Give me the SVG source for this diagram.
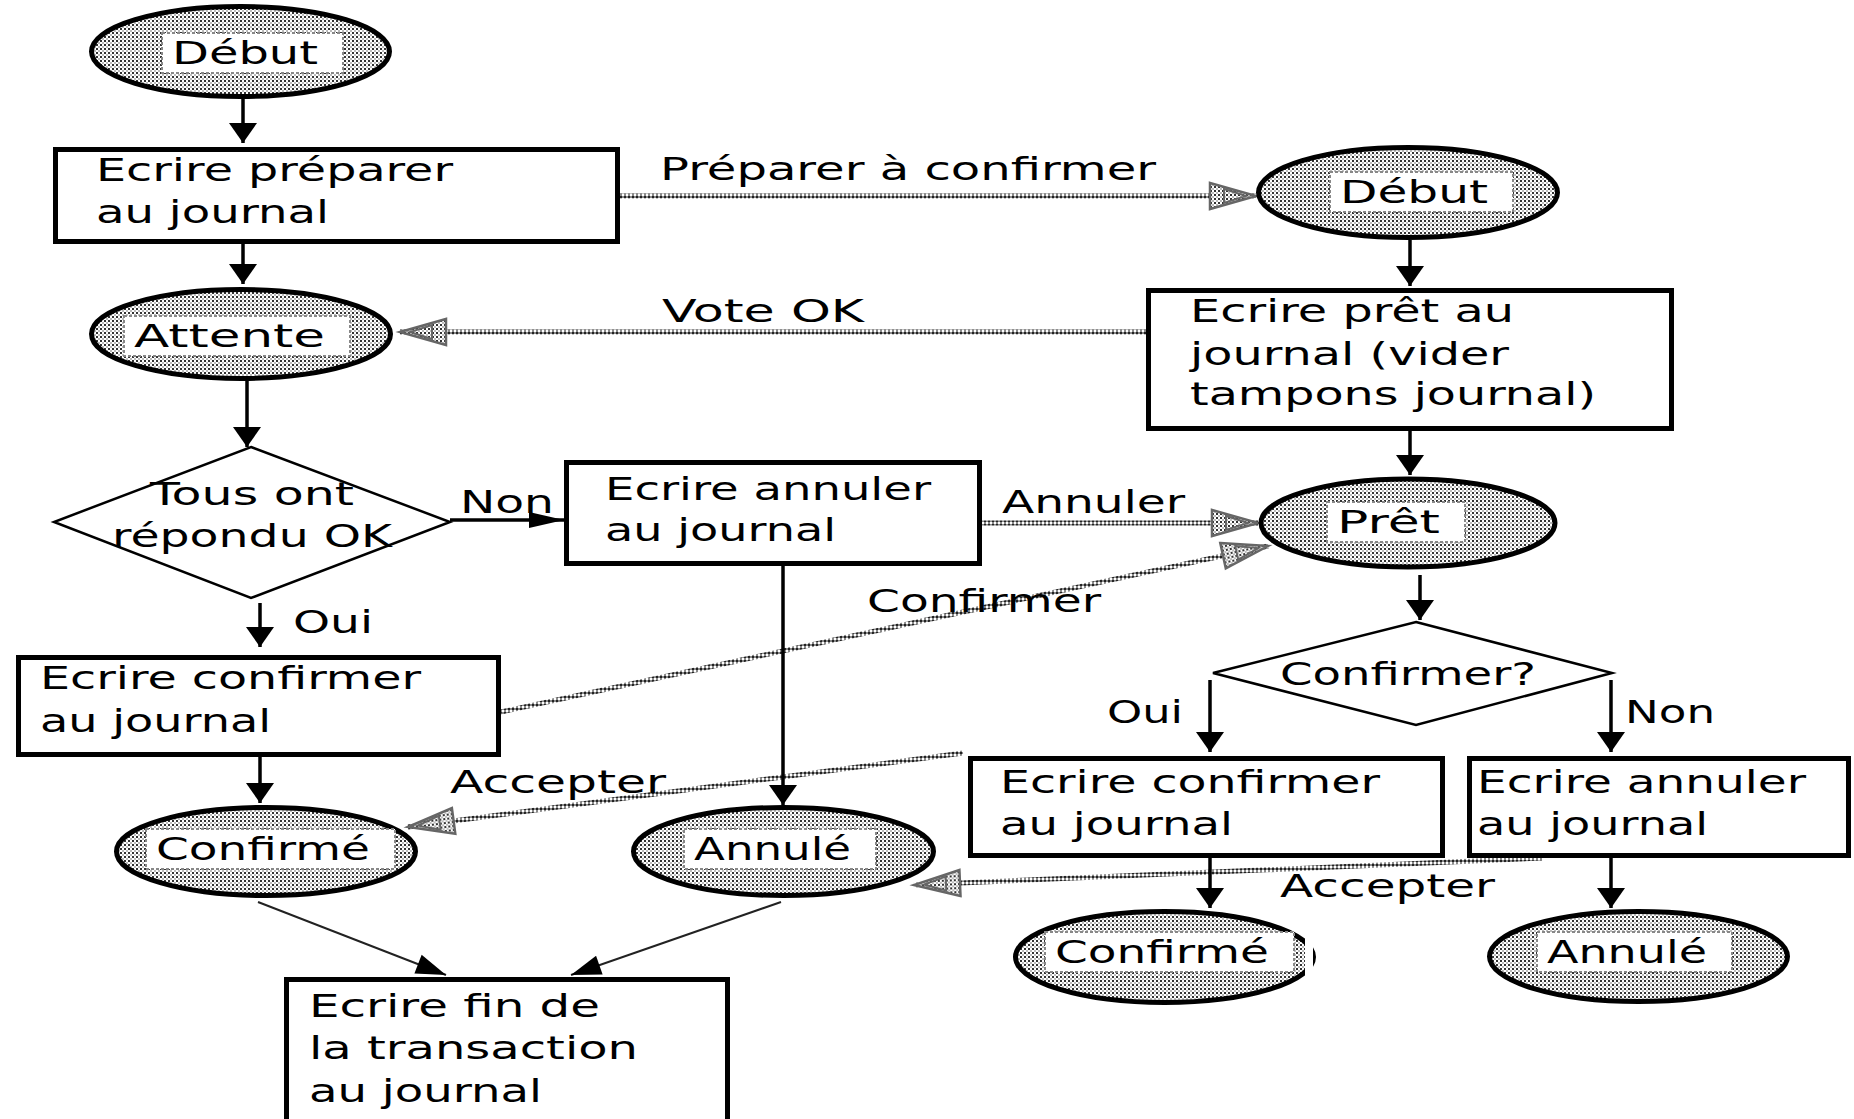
<svg xmlns="http://www.w3.org/2000/svg" width="1854" height="1119" viewBox="0 0 1854 1119">
<defs>
<pattern id="dots" width="4" height="4" patternUnits="userSpaceOnUse">
<rect width="4" height="4" fill="#fff"/>
<rect width="2" height="2" fill="#333"/>
<rect x="2" y="2" width="2" height="2" fill="#bbb"/>
</pattern>
<pattern id="chain" width="4" height="4" patternUnits="userSpaceOnUse">
<rect width="4" height="4" fill="#8a8a8a"/>
<rect width="2" height="2" fill="#222"/>
<rect x="2" y="2" width="2" height="2" fill="#fff"/>
</pattern>
<marker id="ahv" markerUnits="userSpaceOnUse" markerWidth="20" markerHeight="28" refX="20" refY="14" orient="auto" overflow="visible">
<path d="M0,0 L20,14 L0,28 z" fill="#000"/>
</marker>
<marker id="ahh" markerUnits="userSpaceOnUse" markerWidth="35" markerHeight="16" refX="35" refY="8" orient="auto" overflow="visible">
<path d="M0,0 L35,8 L0,16 z" fill="#000"/>
</marker>
<marker id="ahd" markerUnits="userSpaceOnUse" markerWidth="30" markerHeight="20" refX="30" refY="10" orient="auto" overflow="visible">
<path d="M0,0 L30,10 L0,20 z" fill="#000"/>
</marker>
<marker id="ahg" markerUnits="userSpaceOnUse" markerWidth="46" markerHeight="28" refX="46" refY="14" orient="auto" overflow="visible">
<path d="M0,1 L46,14 L0,27 z" fill="url(#dots)" stroke="#666" stroke-width="2.5"/>
<path d="M14,7 L36,14 L14,21 z" fill="none" stroke="#666" stroke-width="2"/>
</marker>
<style>
.t{font-family:"DejaVu Sans","Liberation Sans",sans-serif;font-size:32px;fill:#000}
.box{fill:#fff;stroke:#000;stroke-width:5}
.ell{fill:url(#dots);stroke:#000;stroke-width:5}
.win{fill:#fff;stroke:#888;stroke-width:2;stroke-dasharray:3 2}
.dia{fill:#fff;stroke:#000;stroke-width:2.5}
.ln{fill:none;stroke:#000;stroke-width:3.5}
.ld{fill:none;stroke:#222;stroke-width:2}
.msg{fill:none;stroke:url(#chain);stroke-width:5}
</style>
</defs>
<rect width="1854" height="1119" fill="#fff"/>

<g id="connectors">
<path class="msg" d="M620,196 H1256" marker-end="url(#ahg)"/>
<path class="msg" d="M1146,332 H400" marker-end="url(#ahg)"/>
<path class="msg" d="M982,523 H1258" marker-end="url(#ahg)"/>
<path class="msg" d="M501,712 L1268,546" marker-end="url(#ahg)"/>
<path class="msg" d="M963,753 L408,827" marker-end="url(#ahg)"/>
<path class="msg" d="M1542,858 L914,885" marker-end="url(#ahg)"/>
<path class="ln" d="M243,99 V143" marker-end="url(#ahv)"/>
<path class="ln" d="M243,244 V284" marker-end="url(#ahv)"/>
<path class="ln" d="M247,381 V447" marker-end="url(#ahv)"/>
<path class="ln" d="M450,520 H564" marker-end="url(#ahh)"/>
<path class="ln" d="M260,603 V647" marker-end="url(#ahv)"/>
<path class="ln" d="M260,757 V803" marker-end="url(#ahv)"/>
<path class="ln" d="M783,566 V805" marker-end="url(#ahv)"/>
<path class="ld" d="M258,902 L446,975" marker-end="url(#ahd)"/>
<path class="ld" d="M781,902 L571,975" marker-end="url(#ahd)"/>
<path class="ln" d="M1410,240 V286" marker-end="url(#ahv)"/>
<path class="ln" d="M1410,431 V475" marker-end="url(#ahv)"/>
<path class="ln" d="M1420,575 V620" marker-end="url(#ahv)"/>
<path class="ln" d="M1210,680 V752" marker-end="url(#ahv)"/>
<path class="ln" d="M1611,680 V752" marker-end="url(#ahv)"/>
<path class="ln" d="M1210,858 V908" marker-end="url(#ahv)"/>
<path class="ln" d="M1611,858 V908" marker-end="url(#ahv)"/>
<g id="labels">
<text class="t" x="660" y="180" textLength="496" lengthAdjust="spacingAndGlyphs">Préparer à confirmer</text>
<text class="t" x="662" y="322" textLength="202" lengthAdjust="spacingAndGlyphs">Vote OK</text>
<text class="t" x="460" y="513" textLength="94" lengthAdjust="spacingAndGlyphs">Non</text>
<text class="t" x="293" y="633" textLength="80" lengthAdjust="spacingAndGlyphs">Oui</text>
<text class="t" x="1002" y="513" textLength="183" lengthAdjust="spacingAndGlyphs">Annuler</text>
<text class="t" x="867" y="612" textLength="234" lengthAdjust="spacingAndGlyphs">Confirmer</text>
<text class="t" x="1107" y="723" textLength="76" lengthAdjust="spacingAndGlyphs">Oui</text>
<text class="t" x="1625" y="723" textLength="90" lengthAdjust="spacingAndGlyphs">Non</text>
<text class="t" x="450" y="793" textLength="216" lengthAdjust="spacingAndGlyphs">Accepter</text>
<text class="t" x="1280" y="897" textLength="215" lengthAdjust="spacingAndGlyphs">Accepter</text>
</g>
</g>

<g id="debut1">
<ellipse class="ell" cx="240.5" cy="51.5" rx="149" ry="45"/>
<rect class="win" x="162" y="33" width="181" height="40"/>
<text class="t" x="172" y="64" textLength="146" lengthAdjust="spacingAndGlyphs">Début</text>
</g>
<g id="box1">
<rect class="box" x="55.5" y="149.5" width="562" height="92"/>
<text class="t" x="96" y="181" textLength="357" lengthAdjust="spacingAndGlyphs">Ecrire préparer</text>
<text class="t" x="96" y="223" textLength="233" lengthAdjust="spacingAndGlyphs">au journal</text>
</g>
<g id="attente">
<ellipse class="ell" cx="241" cy="334" rx="149.5" ry="44.5"/>
<rect class="win" x="124" y="316" width="226" height="40"/>
<text class="t" x="134" y="347" textLength="191" lengthAdjust="spacingAndGlyphs">Attente</text>
</g>
<g id="decision1">
<polygon class="dia" points="251,447 450,522 251,598 54,522"/>
<text class="t" x="150" y="505" textLength="204" lengthAdjust="spacingAndGlyphs">Tous ont</text>
<text class="t" x="112" y="547" textLength="280" lengthAdjust="spacingAndGlyphs">répondu OK</text>
</g>
<g id="box3">
<rect class="box" x="566.5" y="462.5" width="413" height="101"/>
<text class="t" x="605" y="500" textLength="326" lengthAdjust="spacingAndGlyphs">Ecrire annuler</text>
<text class="t" x="605" y="541" textLength="231" lengthAdjust="spacingAndGlyphs">au journal</text>
</g>
<g id="box4">
<rect class="box" x="18.5" y="657.5" width="480" height="97"/>
<text class="t" x="40" y="689" textLength="381" lengthAdjust="spacingAndGlyphs">Ecrire confirmer</text>
<text class="t" x="40" y="732" textLength="231" lengthAdjust="spacingAndGlyphs">au journal</text>
</g>
<g id="confirme1">
<ellipse class="ell" cx="266" cy="851.5" rx="149.5" ry="44"/>
<rect class="win" x="146" y="829" width="249" height="40"/>
<text class="t" x="156" y="860" textLength="214" lengthAdjust="spacingAndGlyphs">Confirmé</text>
</g>
<g id="annule1">
<ellipse class="ell" cx="783.5" cy="851.5" rx="150" ry="44"/>
<rect class="win" x="684" y="829" width="192" height="40"/>
<text class="t" x="694" y="860" textLength="157" lengthAdjust="spacingAndGlyphs">Annulé</text>
</g>
<g id="fin">
<rect class="box" x="286.5" y="979.5" width="441" height="160"/>
<text class="t" x="309" y="1017" textLength="291" lengthAdjust="spacingAndGlyphs">Ecrire fin de</text>
<text class="t" x="309" y="1059" textLength="329" lengthAdjust="spacingAndGlyphs">la transaction</text>
<text class="t" x="309" y="1102" textLength="233" lengthAdjust="spacingAndGlyphs">au journal</text>
</g>
<g id="debut2">
<ellipse class="ell" cx="1408" cy="192.5" rx="149.5" ry="45"/>
<rect class="win" x="1330" y="172" width="183" height="40"/>
<text class="t" x="1340" y="203" textLength="148" lengthAdjust="spacingAndGlyphs">Début</text>
</g>
<g id="box2">
<rect class="box" x="1148.5" y="290.5" width="523" height="138"/>
<text class="t" x="1190" y="322" textLength="324" lengthAdjust="spacingAndGlyphs">Ecrire prêt au</text>
<text class="t" x="1190" y="365" textLength="319" lengthAdjust="spacingAndGlyphs">journal (vider</text>
<text class="t" x="1190" y="405" textLength="406" lengthAdjust="spacingAndGlyphs">tampons journal)</text>
</g>
<g id="pret">
<ellipse class="ell" cx="1408" cy="523" rx="147" ry="44"/>
<rect class="win" x="1327" y="502" width="138" height="40"/>
<text class="t" x="1337" y="533" textLength="103" lengthAdjust="spacingAndGlyphs">Prêt</text>
</g>
<g id="decision2">
<polygon class="dia" points="1416,622 1612,673 1416,725 1213,673"/>
<text class="t" x="1280" y="685" textLength="256" lengthAdjust="spacingAndGlyphs">Confirmer?</text>
</g>
<g id="box5">
<rect class="box" x="970.5" y="758.5" width="472" height="97"/>
<text class="t" x="1000" y="793" textLength="380" lengthAdjust="spacingAndGlyphs">Ecrire confirmer</text>
<text class="t" x="1000" y="835" textLength="233" lengthAdjust="spacingAndGlyphs">au journal</text>
</g>
<g id="box6">
<rect class="box" x="1469.5" y="758.5" width="379" height="97"/>
<text class="t" x="1477" y="793" textLength="329" lengthAdjust="spacingAndGlyphs">Ecrire annuler</text>
<text class="t" x="1477" y="835" textLength="231" lengthAdjust="spacingAndGlyphs">au journal</text>
</g>
<g id="confirme2">
<ellipse class="ell" cx="1164.5" cy="957" rx="149" ry="45.5"/>
<rect class="win" x="1045" y="932" width="249" height="40"/>
<text class="t" x="1055" y="963" textLength="214" lengthAdjust="spacingAndGlyphs">Confirmé</text>
<rect x="1305" y="936" width="8" height="40" fill="#fff"/>
</g>
<g id="annule2">
<ellipse class="ell" cx="1638.5" cy="956.5" rx="149" ry="45"/>
<rect class="win" x="1537" y="932" width="195" height="40"/>
<text class="t" x="1547" y="963" textLength="160" lengthAdjust="spacingAndGlyphs">Annulé</text>
</g>
</svg>
